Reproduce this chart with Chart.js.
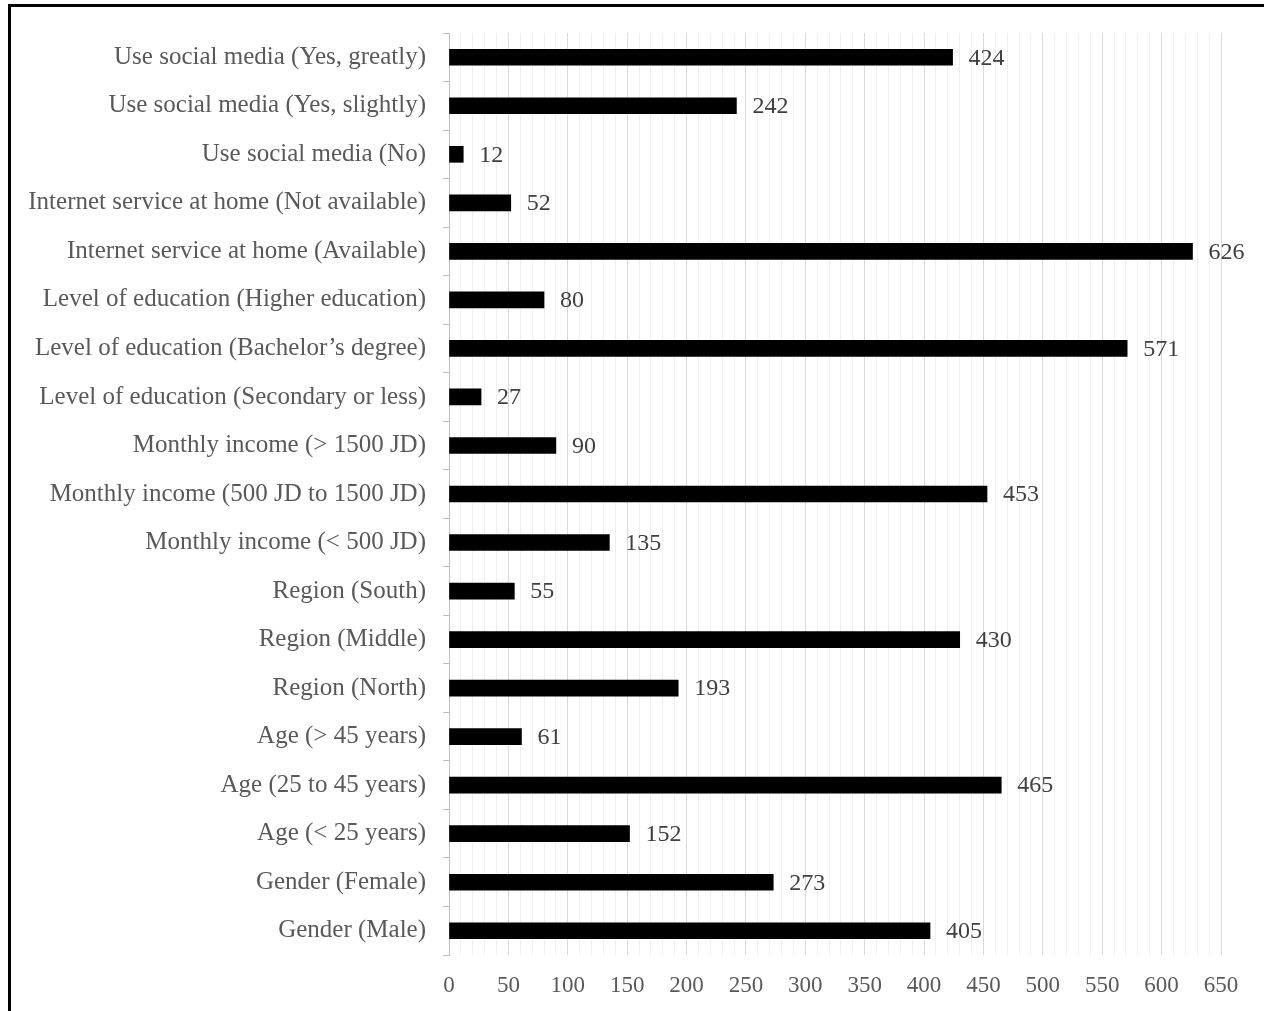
<!DOCTYPE html>
<html>
<head>
<meta charset="utf-8">
<script src="https://cdn.jsdelivr.net/npm/chart.js@4"></script>
<style>
  html, body { margin: 0; padding: 0; background: #fff; overflow: hidden; }
  #wrap { position: absolute; left: 0; top: 0; width: 1264px; height: 1011px; }
  #frame { position: absolute; left: 8px; top: 4px; width: 1400px; height: 1200px;
           border-left: 3px solid #000; border-top: 3px solid #000; pointer-events: none; }
</style>
</head>
<body>
<div id="wrap"><canvas id="myChart" width="1264" height="1011"></canvas></div>
<div id="frame"></div>
<script>
// setup block
const categories = [
  "Use social media (Yes, greatly)",
  "Use social media (Yes, slightly)",
  "Use social media (No)",
  "Internet service at home (Not available)",
  "Internet service at home (Available)",
  "Level of education (Higher education)",
  "Level of education (Bachelor\u2019s degree)",
  "Level of education (Secondary or less)",
  "Monthly income (> 1500 JD)",
  "Monthly income (500 JD to 1500 JD)",
  "Monthly income (< 500 JD)",
  "Region (South)",
  "Region (Middle)",
  "Region (North)",
  "Age (> 45 years)",
  "Age (25 to 45 years)",
  "Age (< 25 years)",
  "Gender (Female)",
  "Gender (Male)",
];
const counts = [
  424, 242, 12, 52, 626, 80, 571, 27, 90, 453, 135, 55, 430, 193, 61, 465, 152,
  273, 405,
];
const xTicks = [0, 50, 100, 150, 200, 250, 300, 350, 400, 450, 500, 550, 600, 650];

const serif = "'Liberation Serif', 'Times New Roman', serif";

// value labels at bar ends
const valueLabels = {
  id: "valueLabels",
  afterDatasetsDraw(chart) {
    const ctx = chart.ctx;
    const meta = chart.getDatasetMeta(0);
    ctx.save();
    ctx.font = "24px " + serif;
    ctx.fillStyle = "#404040";
    ctx.textAlign = "left";
    ctx.textBaseline = "middle";
    meta.data.forEach((bar, i) => {
      ctx.fillText(String(counts[i]), bar.x + 16, bar.y + 1);
    });
    ctx.restore();
  },
};

const data = {
  labels: categories,
  datasets: [
    {
      data: counts,
      backgroundColor: "#000000",
      borderWidth: 0,
      barThickness: 16,
    },
  ],
};

// config block
const config = {
  type: "bar",
  data: data,
  options: {
    indexAxis: "y",
    responsive: false,
    animation: false,
    layout: { padding: { top: 33, right: 43, left: 0, bottom: 0 } },
    plugins: {
      legend: { display: false },
      tooltip: { enabled: false },
    },
    scales: {
      x: {
        min: 0,
        max: 650,
        afterBuildTicks(scale) {
          const t = [];
          for (let v = 0; v <= 650; v += 10) t.push({ value: v });
          scale.ticks = t;
        },
        afterFit(scale) {
          scale.height = 56;
        },
        ticks: {
          autoSkip: false,
          maxRotation: 0,
          padding: 17,
          color: "#595959",
          font: { family: serif, size: 23 },
          callback: (v) => (xTicks.includes(v) ? String(v) : ""),
        },
        grid: {
          drawTicks: false,
          lineWidth: 1,
          color: (c) => (c.tick && c.tick.value % 50 === 0 ? "#d9d9d9" : "#efefef"),
        },
        border: { display: false },
      },
      y: {
        afterFit(scale) {
          scale.width = 449;
        },
        ticks: {
          padding: 17,
          color: "#595959",
          font: { family: serif, size: 25 },
        },
        grid: {
          offset: true,
          drawOnChartArea: false,
          drawTicks: true,
          tickLength: 6,
          color: "#bfbfbf",
        },
        border: { display: true, color: "#bfbfbf", width: 1 },
      },
    },
  },
  plugins: [valueLabels],
};

// render init block
const myChart = new Chart(document.getElementById("myChart"), config);
</script>
</body>
</html>
